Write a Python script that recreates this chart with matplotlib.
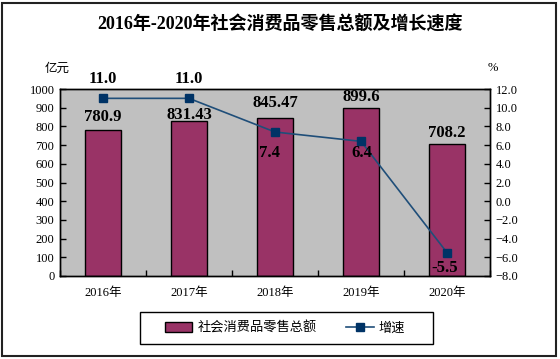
import matplotlib
matplotlib.use("Agg")
import matplotlib.pyplot as plt
from matplotlib.patches import Rectangle
import numpy as np

years = ["2016年", "2017年", "2018年", "2019年", "2020年"]
sales = [780.9, 831.43, 845.47, 899.6, 708.2]
sales_labels = ["780.9", "831.43", "845.47", "899.6", "708.2"]
growth = [11.0, 11.0, 7.4, 6.4, -5.5]
growth_labels = ["11.0", "11.0", "7.4", "6.4", "-5.5"]
left_ticks = list(range(0, 1001, 100))
right_ticks = [12.0, 10.0, 8.0, 6.0, 4.0, 2.0, 0.0, -2.0, -4.0, -6.0, -8.0]

# label offsets in pixels (style)
bar_label_dy = [13, 6, 15, 11, 11]
line_label_dy = [19, 19, -21, -12, -15]
line_label_dx = [0, 0, -6, 1, -2]

FAM = ["Liberation Serif", "Noto Sans CJK SC"]
plt.rcParams["font.family"] = FAM
plt.rcParams["axes.unicode_minus"] = True

fig = plt.figure(figsize=(5.6, 3.59), dpi=100)
fig.patch.set_facecolor("white")
fig.add_artist(Rectangle((2/560, 3/359), 554/560, 353/359, transform=fig.transFigure,
                         fill=False, edgecolor="#222222", linewidth=1.5))

ax = fig.add_axes([60/560, 1 - 276/359, 430/560, 187/359])
ax.set_facecolor("#c0c0c0")
x = np.arange(len(years))
bars = ax.bar(x, sales, width=0.41, color="#993366", edgecolor="black", linewidth=1.0,
              label="社会消费品零售总额", zorder=2)
ax.set_xlim(-0.5, len(years) - 0.5)
ax.set_ylim(0, 1000)
ax.set_yticks(left_ticks)
ax.set_yticklabels([str(t) for t in left_ticks], fontsize=9)
ax.set_xticks(x)
ax.set_xticklabels(years, fontsize=9)
ax.tick_params(axis="x", length=0, pad=8)
ax.set_xticks(np.arange(len(years) + 1) - 0.5, minor=True)
ax.tick_params(axis="x", which="minor", direction="in", length=4, width=1)
ax.tick_params(axis="y", direction="in", length=4, width=1, pad=4)
for s in ax.spines.values():
    s.set_linewidth(1.0)
    s.set_color("black")

for i, (v, lab) in enumerate(zip(sales, sales_labels)):
    ax.annotate(lab, (x[i], v), xytext=(0, bar_label_dy[i]), textcoords="offset pixels",
                ha="center", va="center", fontsize=12, fontweight="bold", zorder=5,
                annotation_clip=False)

ax2 = ax.twinx()
ax2.set_ylim(-8, 12)
ax2.set_yticks(right_ticks)
ax2.set_yticklabels([f"{t:.1f}".replace("-", "\u2212") for t in right_ticks], fontsize=9)
ax2.tick_params(axis="y", direction="in", length=4, width=1, pad=4)
line, = ax2.plot(x, growth, color="#1f4e79", linewidth=1.2, marker="s", markersize=5.5,
                 markerfacecolor="#003366", markeredgecolor="#003366", label="增速", zorder=4)
for i, (v, lab) in enumerate(zip(growth, growth_labels)):
    ax2.annotate(lab, (x[i], v), xytext=(line_label_dx[i], line_label_dy[i]),
                 textcoords="offset pixels", ha="center", va="center", fontsize=12,
                 fontweight="bold", annotation_clip=False, zorder=6)
for s in ax2.spines.values():
    s.set_linewidth(1.0)

fig.text(57/560, 1 - 68/359, "亿元", ha="center", va="center", fontsize=9,
         family=["Noto Sans CJK SC"])
fig.text(493/560, 1 - 68/359, "%", ha="center", va="center", fontsize=9)

fig.text(0.5, 1 - 25/359, "2016年-2020年社会消费品零售总额及增长速度", ha="center", va="center",
         fontsize=13, fontweight="bold")

# legend frame drawn separately to match the wide box
fig.add_artist(Rectangle((140/560, 1 - 344/359), 293/560, 32/359, transform=fig.transFigure,
                         fill=False, edgecolor="black", linewidth=1.0))
leg = fig.legend(handles=[bars, line], labels=["社会消费品零售总额", "增速"],
                 loc="center", bbox_to_anchor=(285/560, 1 - 328/359), ncol=2,
                 frameon=False, fontsize=9.5,
                 handlelength=2.1, handleheight=0.8, columnspacing=2.2,
                 borderpad=0.3, handletextpad=0.4)

fig.savefig("out.png", dpi=100, facecolor="white")
